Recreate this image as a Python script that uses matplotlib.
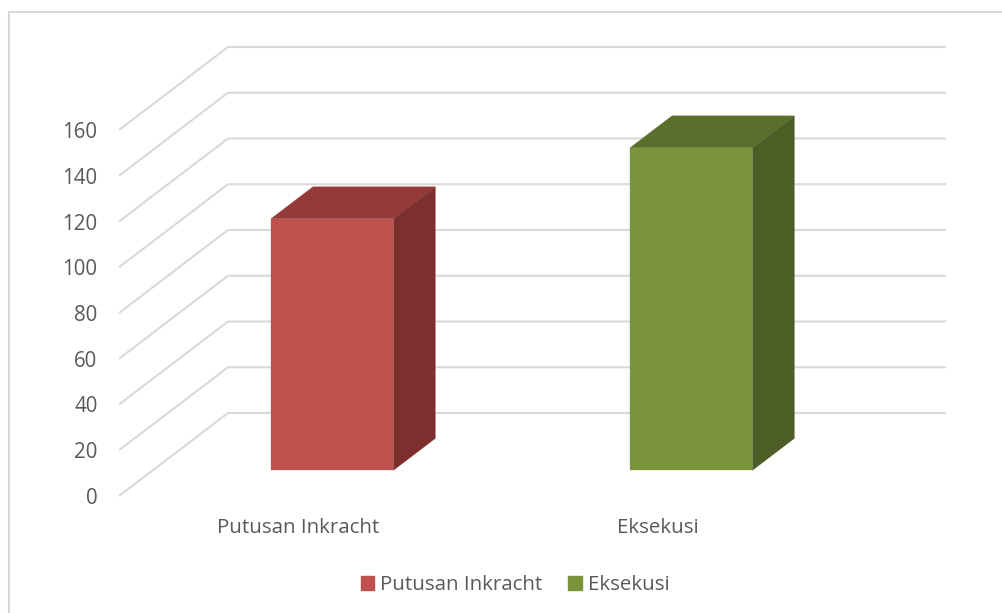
import matplotlib
matplotlib.use("Agg")
import matplotlib.pyplot as plt
from matplotlib.patches import Polygon, Patch, Rectangle

categories = ["Putusan Inkracht", "Eksekusi"]
values = [110, 141]
y_ticks = [0, 20, 40, 60, 80, 100, 120, 140, 160]
front_colors = ["#C0504D", "#7A943B"]
top_colors = ["#943B39", "#5B6F2C"]
side_colors = ["#7C2F2D", "#4C5D25"]

W, H = 1002, 613
TXT = "#595959"
GRID = "#D9D9D9"
plt.rcParams["font.family"] = ["Open Sans", "DejaVu Sans"]

fig = plt.figure(figsize=(W / 100, H / 100), dpi=100, facecolor="white")
L, R, T, B = 119, 837, 130, 496
ax = fig.add_axes([L / W, 1 - B / H, (R - L) / W, (B - T) / H])
ax.set_xlim(-0.5, 1.5)
ax.set_ylim(0, 160)
ax.patch.set_visible(False)
for s in ax.spines.values():
    s.set_visible(False)

# oblique depth: full floor depth in data units
DX = 109 / 359
DY = 83 / (366 / 160)
def proj(x, v, d):
    return (x + d * DX, v + d * DY)

# gridlines: side wall + back wall
for v in y_ticks:
    pts = [proj(-0.5, v, 0), proj(-0.5, v, 1), proj(1.5, v, 1)]
    ax.plot([p[0] for p in pts], [p[1] for p in pts], color=GRID, lw=1.5,
            clip_on=False, zorder=1, solid_joinstyle="miter", solid_capstyle="butt")

# 3D bars
d0, d1 = 0.309, 0.694
hw = 0.1705
for i, v in enumerate(values):
    x0, x1 = i - hw, i + hw
    faces = [
        ([proj(x0, v, d0), proj(x1, v, d0), proj(x1, v, d1), proj(x0, v, d1)], top_colors[i]),
        ([proj(x1, 0, d0), proj(x1, 0, d1), proj(x1, v, d1), proj(x1, v, d0)], side_colors[i]),
        ([proj(x0, 0, d0), proj(x1, 0, d0), proj(x1, v, d0), proj(x0, v, d0)], front_colors[i]),
    ]
    for pts, c in faces:
        ax.add_patch(Polygon(pts, closed=True, facecolor=c, edgecolor=c, lw=0.2,
                             clip_on=False, zorder=3))

ax.set_yticks(y_ticks)
ax.set_yticklabels([str(v) for v in y_ticks], fontsize=14.8, color=TXT)
ax.set_xticks(range(len(categories)))
ax.set_xticklabels(categories, fontsize=14.75, color=TXT)
ax.tick_params(axis="y", length=0, pad=15.5)
ax.tick_params(axis="x", length=0, pad=15.5)

# chart frame, running off the right and bottom of the picture
fig.add_artist(Rectangle((9 / W, -0.05), 1.1, 1.05 - 12 / H, transform=fig.transFigure,
                         facecolor="none", edgecolor=GRID, lw=1.5))

handles = [Patch(facecolor=c, edgecolor=c) for c in front_colors]
fig.legend(handles, categories, loc="center", bbox_to_anchor=(515 / W, 1 - 585.5 / H), ncol=2,
           frameon=False, fontsize=14.75, labelcolor=TXT, handlelength=0.66, handleheight=0.66,
           handletextpad=0.3, columnspacing=1.25, borderpad=0)

fig.savefig("out.png", dpi=100, facecolor="white")
